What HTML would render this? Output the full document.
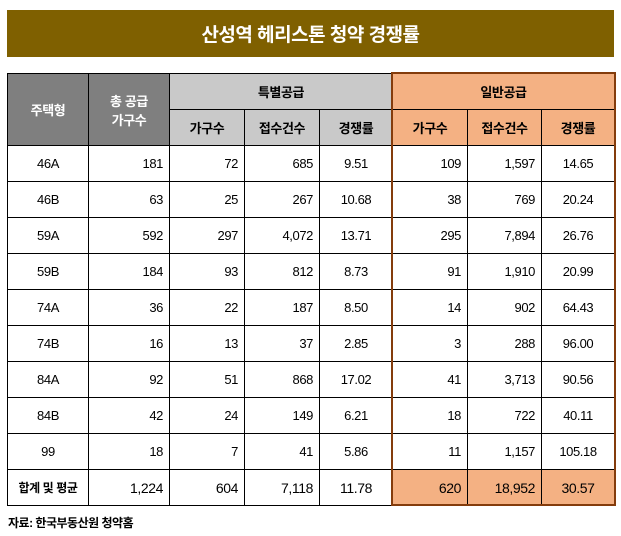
<!DOCTYPE html>
<html><head><meta charset="utf-8"><style>
body{margin:0;width:621px;height:536px;background:#fff;font-family:"Liberation Sans","Noto Sans CJK KR",sans-serif;position:relative;overflow:hidden}
#title{position:absolute;left:7px;top:10px;width:607px;height:47px;background:#7f6000;color:#fff;font:bold 19px "Liberation Sans","Noto Sans CJK KR",sans-serif;display:flex;align-items:center;justify-content:center;letter-spacing:-0.5px}
table{position:absolute;left:7px;top:73px;border-collapse:collapse;table-layout:fixed;width:607px}
td,th{border:1px solid #000;font-size:13px;height:35px;padding:0 6px;letter-spacing:-0.4px;color:#000}
th{font-weight:bold;font-size:13px}
.g{background:#7f7f7f;color:#fff}
.s{background:#c9c9c9}
.o{background:#f4b183}
.r{text-align:right}.c{text-align:center}
#src{position:absolute;left:8px;top:514px;font-size:12px;font-weight:bold;letter-spacing:-0.5px}
#box{position:absolute;left:391px;top:72px;width:221px;height:430px;border:2px solid #843c0c;pointer-events:none}
</style></head><body>
<div id="title">산성역 헤리스톤 청약 경쟁률</div>
<table>
<colgroup><col style="width:81px"><col style="width:81px"><col style="width:75px"><col style="width:75px"><col style="width:73px"><col style="width:75px"><col style="width:74px"><col style="width:73px"></colgroup>
<tr><th class="g" rowspan="2" style="height:71px">주택형</th><th class="g" rowspan="2">총 공급<br>가구수</th><th class="s" colspan="3">특별공급</th><th class="o" colspan="3">일반공급</th></tr>
<tr><th class="s">가구수</th><th class="s">접수건수</th><th class="s">경쟁률</th><th class="o">가구수</th><th class="o">접수건수</th><th class="o">경쟁률</th></tr>
<tbody id="body"></tbody>
</table>
<div id="box"></div>
<div id="src">자료: 한국부동산원 청약홈</div>
<script>
const types=["46A","46B","59A","59B","74A","74B","84A","84B","99","합계 및 평균"];
const totalUnits=["181","63","592","184","36","16","92","42","18","1,224"];
const spUnits=["72","25","297","93","22","13","51","24","7","604"];
const spApps=["685","267","4,072","812","187","37","868","149","41","7,118"];
const spRate=["9.51","10.68","13.71","8.73","8.50","2.85","17.02","6.21","5.86","11.78"];
const genUnits=["109","38","295","91","14","3","41","18","11","620"];
const genApps=["1,597","769","7,894","1,910","902","288","3,713","722","1,157","18,952"];
const genRate=["14.65","20.24","26.76","20.99","64.43","96.00","90.56","40.11","105.18","30.57"];
const tb=document.getElementById('body');
types.forEach((t,i)=>{
 const tr=document.createElement('tr');
 
 
 const last=i===types.length-1;
 const cells=[[t,'c'],[totalUnits[i],'r'],[spUnits[i],'r'],[spApps[i],'r'],[spRate[i],'c'],[genUnits[i],'r'],[genApps[i],'r'],[genRate[i],'c']];
 cells.forEach((c,j)=>{
  const td=document.createElement('td');
  
  
  td.textContent=c[0];td.className=c[1]+(last&&j>=5?' o':'');
  if(last){td.style.fontSize='14px';if(j===0){td.style.fontWeight='bold';td.style.fontSize='12px';td.style.padding='0 2px';}}
  tr.appendChild(td);
 });
 tb.appendChild(tr);
});
</script>
</body></html>
